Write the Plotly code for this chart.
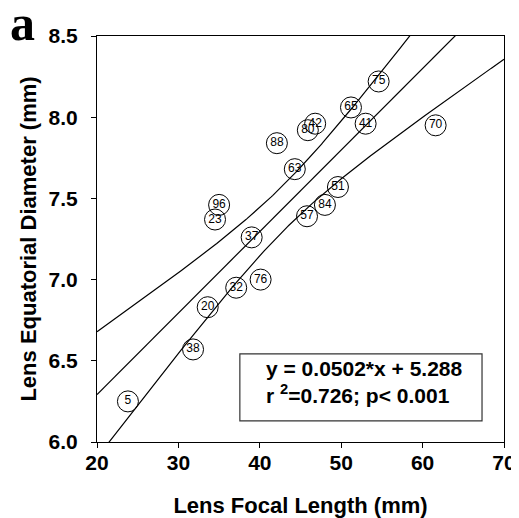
import numpy as np
import plotly.graph_objects as go

# Data
labels = ["5", "38", "20", "32", "76", "37", "23", "96", "88", "63",
          "80", "42", "65", "75", "41", "70", "51", "84", "57"]
focal_length = [23.8, 31.8, 33.6, 37.1, 40.1, 39.0, 34.5, 35.0, 42.1, 44.3,
                45.9, 46.8, 51.2, 54.6, 53.0, 61.6, 49.6, 48.0, 45.8]
equatorial_diameter = [6.25, 6.57, 6.83, 6.95, 7.00, 7.26, 7.37, 7.46, 7.84, 7.68,
                       7.92, 7.96, 8.06, 8.22, 7.96, 7.95, 7.57, 7.46, 7.39]

slope = 0.0502
intercept = 5.288
t_crit = 2.110  # t(0.975, df=17)

x_ticks = [20, 30, 40, 50, 60, 70]
y_ticks = [6.0, 6.5, 7.0, 7.5, 8.0, 8.5]
y_tick_text = ["6.0", "6.5", "7.0", "7.5", "8.0", "8.5"]

# Regression line and 95% confidence band of the mean
x = np.array(focal_length)
y = np.array(equatorial_diameter)
n = len(x)
resid = y - (slope * x + intercept)
s = np.sqrt(np.sum(resid ** 2) / (n - 2))
xbar = x.mean()
sxx = np.sum((x - xbar) ** 2)
xs = np.linspace(x_ticks[0], x_ticks[-1], 300)
fit = slope * xs + intercept
hw = t_crit * s * np.sqrt(1.0 / n + (xs - xbar) ** 2 / sxx)

FONT = "Arial, Liberation Sans, sans-serif"

fig = go.Figure()
line_style = dict(color="black", width=1.2)
fig.add_trace(go.Scatter(x=xs, y=fit + hw, mode="lines", line=line_style, hoverinfo="skip"))
fig.add_trace(go.Scatter(x=xs, y=fit, mode="lines", line=line_style, hoverinfo="skip"))
fig.add_trace(go.Scatter(x=xs, y=fit - hw, mode="lines", line=line_style, hoverinfo="skip"))

fig.add_trace(go.Scatter(
    x=focal_length, y=equatorial_diameter, mode="markers+text",
    text=labels, textposition="middle center",
    textfont=dict(family=FONT, size=12, color="black"),
    marker=dict(size=21, color="rgba(0,0,0,0)", line=dict(color="black", width=1)),
))

# equation box
fig.add_shape(type="rect", xref="paper", yref="paper",
              x0=0.351, x1=0.946, y0=0.052, y1=0.217,
              line=dict(color="#333", width=1.2), fillcolor="white", layer="above")
fig.add_annotation(
    xref="paper", yref="paper", x=0.41, y=0.147, xanchor="left", yanchor="middle",
    text="<b>y = 0.0502*x + 5.288<br>r <sup>2</sup>=0.726; p< 0.001</b>",
    showarrow=False, align="left",
    font=dict(family=FONT, size=21, color="black"),
)

fig.add_annotation(
    xref="paper", yref="paper", x=-0.183, y=1.033, xanchor="center", yanchor="middle",
    text="<b>a</b>", showarrow=False,
    font=dict(family="Liberation Serif, Times New Roman, serif", size=50, color="black"),
)

axis_common = dict(
    showline=True, linecolor="black", linewidth=1, mirror=True,
    ticks="outside", ticklen=5, tickcolor="black", tickwidth=1,
    showgrid=False, zeroline=False, automargin=False,
    tickfont=dict(family=FONT, size=21, color="black"),
)

fig.update_xaxes(
    range=[20, 70], tickvals=x_ticks,
    ticktext=[f"<b>{v}</b>" for v in x_ticks],
    ticklabelstandoff=-3,
    title=dict(text="<b>Lens Focal Length (mm)</b>", standoff=26,
               font=dict(family=FONT, size=22, color="black")),
    **axis_common,
)
fig.update_yaxes(
    range=[6.0, 8.5], tickvals=y_ticks,
    ticktext=[f"<b>{v}</b>" for v in y_tick_text],
    ticklabelstandoff=9,
    title=dict(text="<b>Lens Equatorial Diameter (mm)</b>", standoff=5,
               font=dict(family=FONT, size=22, color="black")),
    **axis_common,
)

# The page body adds an 8px margin, so the figure is sized to fill the rest of the window
fig.update_layout(
    width=511, height=510,
    margin=dict(l=89, r=15, t=28, b=76),
    plot_bgcolor="white", paper_bgcolor="white",
    showlegend=False,
)

fig.write_html("out.html")
